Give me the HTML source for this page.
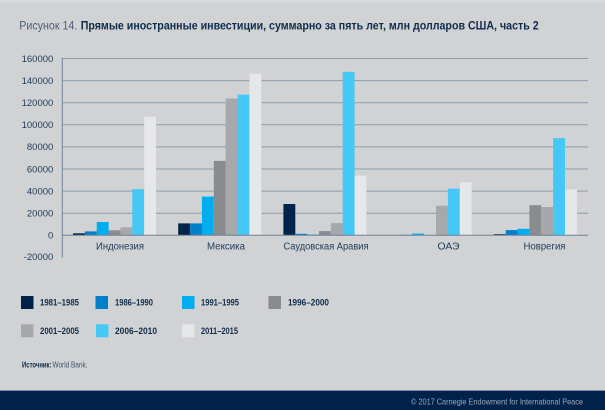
<!DOCTYPE html>
<html><head><meta charset="utf-8"><style>
html,body{margin:0;padding:0;background:#d1d2d4;}
svg{display:block;}
text{font-family:"Liberation Sans",sans-serif;}
</style></head><body>
<svg width="605" height="410" viewBox="0 0 605 410" xmlns="http://www.w3.org/2000/svg">
<rect x="0" y="0" width="605" height="410" fill="#d1d2d4"/>
<rect x="0" y="0" width="605" height="2" fill="#d8d9db"/>
<!-- title -->
<text x="19.3" y="29.3" font-size="12" fill="#4b6078" textLength="58" lengthAdjust="spacingAndGlyphs">Рисунок 14.</text>
<text x="80.7" y="29.3" font-size="12" font-weight="bold" fill="#0f2c4c" textLength="458" lengthAdjust="spacingAndGlyphs">Прямые иностранные инвестиции, суммарно за пять лет, млн долларов США, часть 2</text>
<!-- gridlines -->
<g stroke="#8d9cab" stroke-width="1">
<line x1="62" x2="588" y1="58.5" y2="58.5"/>
<line x1="62" x2="588" y1="80.6" y2="80.6"/>
<line x1="62" x2="588" y1="102.7" y2="102.7"/>
<line x1="62" x2="588" y1="124.8" y2="124.8"/>
<line x1="62" x2="588" y1="146.9" y2="146.9"/>
<line x1="62" x2="588" y1="169.0" y2="169.0"/>
<line x1="62" x2="588" y1="191.1" y2="191.1"/>
<line x1="62" x2="588" y1="213.2" y2="213.2"/>
</g>
<!-- y labels -->
<g font-size="9.5" fill="#1e3a5a" text-anchor="end">
<text x="53.3" y="61.8">160000</text>
<text x="53.3" y="83.9">140000</text>
<text x="53.3" y="106">120000</text>
<text x="53.3" y="128.1">100000</text>
<text x="53.3" y="150.2">80000</text>
<text x="53.3" y="172.3">60000</text>
<text x="53.3" y="194.4">40000</text>
<text x="53.3" y="216.5">20000</text>
<text x="53.3" y="238.6">0</text>
<text x="53.3" y="260.2">-20000</text>
</g>
<!-- bars -->
<g id="bars">
<!-- Indonesia x0=73 -->
<rect x="73.0" y="233.3" width="11.9" height="2.0" fill="#00234a"/>
<rect x="84.9" y="231.4" width="11.9" height="3.9" fill="#0080c8"/>
<rect x="96.7" y="222.0" width="11.9" height="13.3" fill="#00aeef"/>
<rect x="108.6" y="230.3" width="11.9" height="5.0" fill="#8a8b8e"/>
<rect x="120.4" y="227.3" width="11.9" height="8.0" fill="#a7a8ab"/>
<rect x="132.3" y="189.1" width="11.9" height="46.2" fill="#45c8f5"/>
<rect x="144.2" y="116.5" width="11.9" height="118.8" fill="#e6e7e8"/>
<!-- Mexico x0=178.2 -->
<rect x="178.2" y="223.4" width="11.9" height="11.9" fill="#00234a"/>
<rect x="190.1" y="223.4" width="11.9" height="11.9" fill="#0080c8"/>
<rect x="201.9" y="196.6" width="11.9" height="38.7" fill="#00aeef"/>
<rect x="213.8" y="160.9" width="11.9" height="74.4" fill="#8a8b8e"/>
<rect x="225.6" y="98.5" width="11.9" height="136.8" fill="#a7a8ab"/>
<rect x="237.5" y="94.6" width="11.9" height="140.7" fill="#45c8f5"/>
<rect x="249.4" y="73.6" width="11.9" height="161.7" fill="#e6e7e8"/>
<!-- Saudi x0=283.4 -->
<rect x="283.4" y="204.0" width="11.9" height="31.3" fill="#00234a"/>
<rect x="295.3" y="233.8" width="11.9" height="1.5" fill="#0080c8"/>
<rect x="307.1" y="234.6" width="11.9" height="0.7" fill="#00aeef"/>
<rect x="319.0" y="231.1" width="11.9" height="4.2" fill="#8a8b8e"/>
<rect x="330.8" y="223.1" width="11.9" height="12.2" fill="#a7a8ab"/>
<rect x="342.7" y="71.8" width="11.9" height="163.5" fill="#45c8f5"/>
<rect x="354.6" y="175.6" width="11.9" height="59.7" fill="#e6e7e8"/>
<!-- OAE x0=388.6 -->
<rect x="400.5" y="234.4" width="11.9" height="0.9" fill="#8fb8d6"/>
<rect x="412.3" y="233.6" width="11.9" height="1.7" fill="#00aeef"/>
<rect x="436.0" y="205.7" width="11.9" height="29.6" fill="#a7a8ab"/>
<rect x="447.9" y="188.6" width="11.9" height="46.7" fill="#45c8f5"/>
<rect x="459.8" y="182.3" width="11.9" height="53.0" fill="#e6e7e8"/>
<!-- Norway x0=493.8 -->
<rect x="493.8" y="234.2" width="11.9" height="1.1" fill="#00234a"/>
<rect x="505.7" y="230.1" width="11.9" height="5.2" fill="#0080c8"/>
<rect x="517.5" y="228.8" width="11.9" height="6.5" fill="#00aeef"/>
<rect x="529.4" y="205.2" width="11.9" height="30.1" fill="#8a8b8e"/>
<rect x="541.2" y="207.0" width="11.9" height="28.3" fill="#a7a8ab"/>
<rect x="553.1" y="138.1" width="11.9" height="97.2" fill="#45c8f5"/>
<rect x="565.0" y="189.5" width="11.9" height="45.8" fill="#e6e7e8"/>
</g>
<!-- zero line & axis -->
<line x1="62" x2="588" y1="235.3" y2="235.3" stroke="#6e8296" stroke-width="1"/>
<line x1="62.3" x2="62.3" y1="58" y2="257.5" stroke="#6e8296" stroke-width="1"/>
<!-- category labels -->
<g font-size="10" fill="#1e3a5a" text-anchor="middle">
<text x="120" y="249.3" textLength="48" lengthAdjust="spacingAndGlyphs">Индонезия</text>
<text x="226" y="249.3" textLength="38" lengthAdjust="spacingAndGlyphs">Мексика</text>
<text x="326" y="249.3" textLength="85" lengthAdjust="spacingAndGlyphs">Саудовская Аравия</text>
<text x="448.5" y="249.3" textLength="22" lengthAdjust="spacingAndGlyphs">ОАЭ</text>
<text x="544.5" y="249.3" textLength="42" lengthAdjust="spacingAndGlyphs">Новрегия</text>
</g>
<!-- legend -->
<rect x="21" y="296" width="12.5" height="13" fill="#00234a"/>
<rect x="95.5" y="296" width="12.5" height="13" fill="#0080c8"/>
<rect x="182" y="296" width="12.5" height="13" fill="#00aeef"/>
<rect x="268.5" y="296" width="12.5" height="13" fill="#8a8b8e"/>
<rect x="21" y="324.3" width="12.5" height="13" fill="#a7a8ab"/>
<rect x="96" y="324.3" width="12.5" height="13" fill="#45c8f5"/>
<rect x="182" y="324.3" width="12.5" height="13" fill="#e6e7e8"/>
<g font-size="9" font-weight="bold" fill="#0f2c4c">
<text x="40" y="305.5" textLength="39" lengthAdjust="spacingAndGlyphs">1981–1985</text>
<text x="115" y="305.5" textLength="38" lengthAdjust="spacingAndGlyphs">1986–1990</text>
<text x="201" y="305.5" textLength="38" lengthAdjust="spacingAndGlyphs">1991–1995</text>
<text x="288" y="305.5" textLength="41" lengthAdjust="spacingAndGlyphs">1996–2000</text>
<text x="40" y="334" textLength="39" lengthAdjust="spacingAndGlyphs">2001–2005</text>
<text x="115" y="334" textLength="42" lengthAdjust="spacingAndGlyphs">2006–2010</text>
<text x="201" y="334" textLength="37" lengthAdjust="spacingAndGlyphs">2011–2015</text>
</g>
<!-- source -->
<text x="22" y="367.5" font-size="8" font-weight="bold" fill="#0f2c4c" textLength="29.5" lengthAdjust="spacingAndGlyphs">Источник:</text>
<text x="52.5" y="367.5" font-size="8" fill="#3d536c" textLength="35" lengthAdjust="spacingAndGlyphs">World Bank.</text>
<!-- footer -->
<rect x="0" y="390" width="605" height="1" fill="#7f8c99"/>
<rect x="0" y="391" width="605" height="19" fill="#00224a"/>
<text x="411" y="404.3" font-size="8.5" fill="#9aa8b8" textLength="172" lengthAdjust="spacingAndGlyphs">© 2017 Carnegie Endowment for International Peace</text>
</svg>
</body></html>
